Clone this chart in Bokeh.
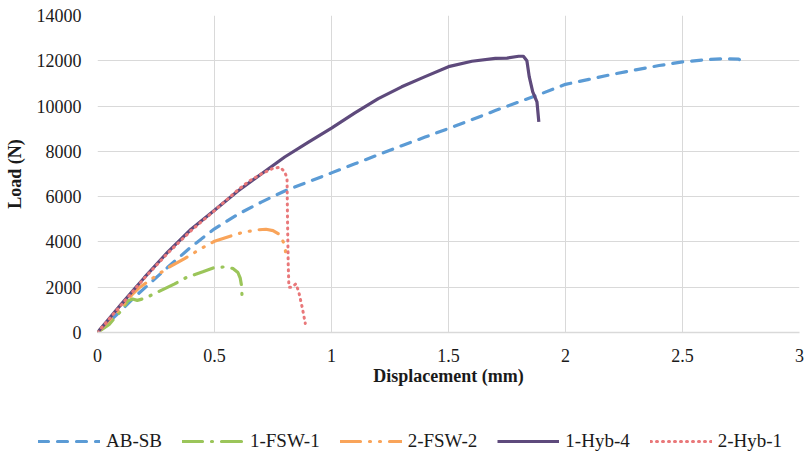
from bokeh.plotting import figure
from bokeh.models import Legend, LegendItem, Range1d, FixedTicker, ColumnDataSource
from bokeh.layouts import column, row
from bokeh.embed import file_html
from bokeh.resources import INLINE

# ---------------- data ----------------
ab_sb_x = [0, 0.05, 0.1, 0.15, 0.2, 0.3, 0.4, 0.5, 0.6, 0.7, 0.8, 0.9, 1.0, 1.1, 1.2, 1.3, 1.4,
           1.5, 1.6, 1.7, 1.8, 1.9, 2.0, 2.1, 2.2, 2.3, 2.4, 2.5, 2.6, 2.68, 2.74, 2.767]
ab_sb_y = [0, 480, 960, 1480, 1950, 2880, 3780, 4580, 5220, 5760, 6250, 6650, 7050, 7450, 7850,
           8250, 8630, 9010, 9400, 9800, 10180, 10560, 10960, 11180, 11400, 11600, 11790, 11950,
           12050, 12090, 12070, 11890]

fsw1_x = [0, 0.05, 0.1, 0.13, 0.15, 0.17, 0.2, 0.27, 0.33, 0.38, 0.45, 0.5, 0.55, 0.58, 0.6,
          0.61, 0.615, 0.618]
fsw1_y = [0, 360, 950, 1400, 1480, 1420, 1500, 1850, 2150, 2430, 2680, 2870, 2900, 2820, 2650,
          2400, 2100, 1550]

fsw2_x = [0, 0.05, 0.1, 0.15, 0.18, 0.25, 0.3, 0.37, 0.45, 0.5, 0.56, 0.62, 0.68, 0.72, 0.75,
          0.775, 0.79, 0.8, 0.808]
fsw2_y = [0, 550, 1100, 1700, 1990, 2500, 2850, 3250, 3750, 4030, 4230, 4420, 4530, 4560, 4500,
          4350, 4100, 3830, 3250]

hyb4_x = [0, 0.05, 0.1, 0.15, 0.2, 0.3, 0.4, 0.5, 0.6, 0.7, 0.8, 0.9, 1.0, 1.1, 1.2, 1.3, 1.4,
          1.5, 1.6, 1.7, 1.75, 1.8, 1.82, 1.835, 1.845, 1.86, 1.878, 1.886]
hyb4_y = [0, 620, 1230, 1830, 2420, 3550, 4560, 5400, 6250, 7000, 7750, 8400, 9030, 9700,
          10330, 10850, 11300, 11740, 11980, 12110, 12120, 12200, 12200, 12000, 11300, 10630,
          10190, 9300]

hyb1_x = [0, 0.1, 0.2, 0.3, 0.4, 0.5, 0.6, 0.65, 0.7, 0.75, 0.78, 0.8, 0.81, 0.812, 0.815,
          0.818, 0.83, 0.848, 0.86, 0.875, 0.888]
hyb1_y = [0, 1200, 2400, 3500, 4500, 5380, 6300, 6700, 7000, 7250, 7300, 7100, 6800, 5000,
          3000, 2000, 2000, 2150, 1800, 1100, 400]

series_names = ["AB-SB", "1-FSW-1", "2-FSW-2", "1-Hyb-4", "2-Hyb-1"]

x_ticks = [0, 0.5, 1, 1.5, 2, 2.5, 3]
x_tick_labels = ["0", "0.5", "1", "1.5", "2", "2.5", "3"]
y_ticks = [0, 2000, 4000, 6000, 8000, 10000, 12000, 14000]

# ---------------- styles ----------------
FONT = "Liberation Serif"
TXT = "#1a1a1a"
styles = [
    dict(line_color="#5b9bd5", line_width=3.2, line_dash="10 9", line_cap="round"),
    dict(line_color="#9bc55a", line_width=3.2, line_dash="20 9 1 9", line_cap="round"),
    dict(line_color="#f9a45a", line_width=3.2, line_dash="20 9 1 9 1 9", line_cap="round"),
    dict(line_color="#5e4a7c", line_width=3.2),
    dict(line_color="#e9787a", line_width=3.0, line_dash="1 5", line_cap="round"),
]

# ---------------- main figure ----------------
p = figure(width=804, height=424,
           min_border_left=97, min_border_right=5, min_border_top=15, min_border_bottom=92,
           output_backend="svg", toolbar_location=None,
           x_range=Range1d(0, 3), y_range=Range1d(0, 14000))
p.outline_line_color = None

p.axis.major_tick_line_color = None
p.axis.minor_tick_line_color = None
p.axis.major_label_text_font = FONT
p.axis.major_label_text_font_size = "18px"
p.axis.major_label_text_color = TXT
p.axis.axis_label_text_font = FONT
p.axis.axis_label_text_font_size = "18px"
p.axis.axis_label_text_font_style = "bold"
p.axis.axis_label_text_color = TXT

p.xaxis.ticker = FixedTicker(ticks=x_ticks)
p.xaxis.major_label_overrides = {t: l for t, l in zip(x_ticks, x_tick_labels)}
p.yaxis.ticker = FixedTicker(ticks=y_ticks)
p.xaxis.axis_line_color = "#d9d9d9"
p.xaxis.axis_line_width = 1.5
p.yaxis.axis_line_color = None
p.xaxis.major_label_standoff = 10
p.yaxis.major_label_standoff = 10
p.xaxis.axis_label = "Displacement (mm)"
p.yaxis.axis_label = "Load (N)"
p.xaxis.axis_label_standoff = 1
p.yaxis.axis_label_standoff = 9

p.xgrid.ticker = FixedTicker(ticks=x_ticks)
p.ygrid.ticker = FixedTicker(ticks=y_ticks)
p.grid.grid_line_color = "#d9d9d9"
p.grid.grid_line_width = 1

all_x = [ab_sb_x, fsw1_x, fsw2_x, hyb4_x, hyb1_x]
all_y = [ab_sb_y, fsw1_y, fsw2_y, hyb4_y, hyb1_y]
for xs, ys, st in zip(all_x, all_y, styles):
    p.line(xs, ys, **st)

# ---------------- legend strip (its own small figure) ----------------
q = figure(width=804, height=30, min_border=0,
           output_backend="svg", toolbar_location=None,
           x_range=Range1d(0, 1), y_range=Range1d(0, 1),
           x_axis_location=None, y_axis_location=None)
q.outline_line_color = None
q.grid.visible = False
items = []
for name, st in zip(series_names, styles):
    # proxy renderers placed outside the visible range; they only feed the legend
    r = q.line(x="x", y="y", source=ColumnDataSource(dict(x=[-10, -9], y=[-10, -9])), **st)
    items.append(LegendItem(label=name, renderers=[r]))
legend = Legend(items=items, orientation="horizontal", location=(38, 2))
legend.label_text_font = FONT
legend.label_text_font_size = "19px"
legend.label_text_color = TXT
legend.border_line_color = None
legend.background_fill_alpha = 0
legend.padding = 0
legend.margin = 0
legend.spacing = 20
legend.glyph_width = 62
legend.glyph_height = 20
legend.label_height = 20
legend.label_standoff = 6
q.add_layout(legend, "center")

layout = column(p, row(q), spacing=0)
open("out.html", "w").write(file_html(layout, INLINE))
